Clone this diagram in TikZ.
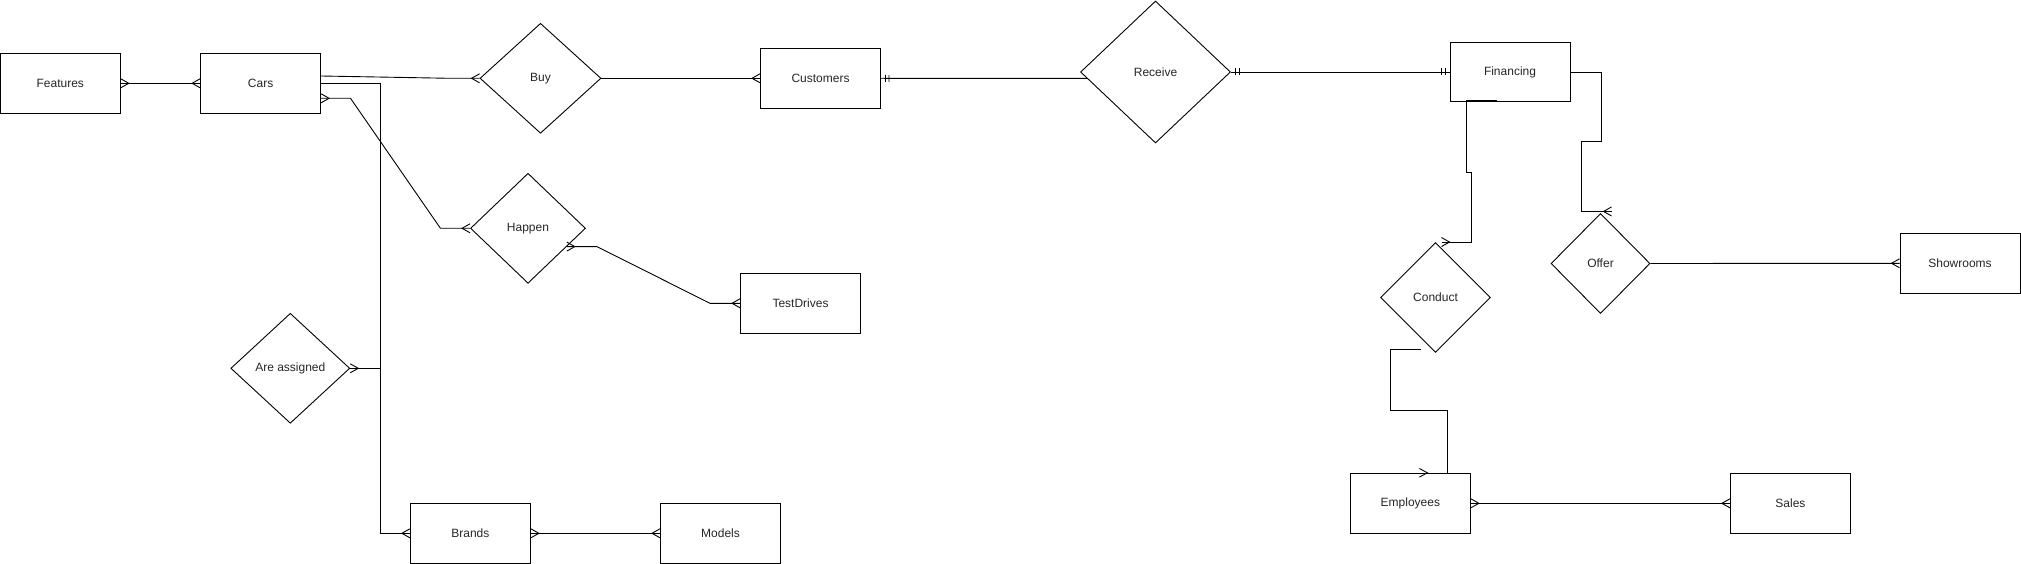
\documentclass[tikz,border=0pt]{standalone}
\usepackage{fontspec}
\setmainfont{Liberation Sans}
\usetikzlibrary{shapes.geometric,arrows.meta,calc}

% crow's foot (many) and double bar (one and only one)
\pgfdeclarearrow{
  name = Crow,
  parameters = {\the\pgfarrowlength,\the\pgfarrowwidth},
  defaults = {length = 8pt, width = 9pt},
  setup code = {
    \pgfarrowssettipend{0pt}
    \pgfarrowssetlineend{0pt}
    \pgfarrowssetbackend{-\pgfarrowlength}
    \pgfarrowssavethe\pgfarrowlength
    \pgfarrowssavethe\pgfarrowwidth
  },
  drawing code = {
    \pgfpathmoveto{\pgfqpoint{0pt}{.5\pgfarrowwidth}}
    \pgfpathlineto{\pgfqpoint{-\pgfarrowlength}{0pt}}
    \pgfpathlineto{\pgfqpoint{0pt}{-.5\pgfarrowwidth}}
    \pgfusepathqstroke
  }
}
\pgfdeclarearrow{
  name = One,
  parameters = {\the\pgfarrowwidth},
  defaults = {width = 7pt},
  setup code = {
    \pgfarrowssettipend{0pt}
    \pgfarrowssetlineend{0pt}
    \pgfarrowssetbackend{-8pt}
    \pgfarrowssavethe\pgfarrowwidth
  },
  drawing code = {
    \pgfpathmoveto{\pgfqpoint{-4.5pt}{.5\pgfarrowwidth}}
    \pgfpathlineto{\pgfqpoint{-4.5pt}{-.5\pgfarrowwidth}}
    \pgfpathmoveto{\pgfqpoint{-8pt}{.5\pgfarrowwidth}}
    \pgfpathlineto{\pgfqpoint{-8pt}{-.5\pgfarrowwidth}}
    \pgfusepathqstroke
  }
}

\tikzset{
  entity/.style={draw, line width=1pt, minimum width=120pt, minimum height=60pt,
    inner sep=0pt, font=\fontsize{12}{14}\selectfont, text=black!85},
  relation/.style={draw, diamond, line width=0.9pt, inner sep=0pt,
    font=\fontsize{12}{14}\selectfont, text=black!85},
  link/.style={line width=0.9pt}
}

\begin{document}
\begin{tikzpicture}[x=1pt,y=-1pt]
        \useasboundingbox (0,0) rectangle (2021,564);
        % entities and relations
        \node[entity] (features) at (60.3,83.3) {Features};
        \node[entity] (cars) at (260.6,83.3) {Cars};
        \node[relation, minimum width=121pt, minimum height=110pt] (buy) at (540.5,78.3) {Buy};
        \node[entity] (customers) at (820.5,78.3) {Customers};
        \node[relation, minimum width=150pt, minimum height=142pt] (receive) at (1155.5,72) {Receive};
        \node[entity, minimum height=59pt] (financing) at (1510,72) {Financing};
        \node[relation, minimum width=115pt, minimum height=110pt] (happen) at (528,228.3) {Happen};
        \node[entity] (testdrives) at (800.5,303.3) {TestDrives};
        \node[relation, minimum width=119pt, minimum height=110pt] (assigned) at (290.3,368.3) {Are assigned};
        \node[entity] (brands) at (470.4,533.3) {Brands};
        \node[entity] (models) at (720.5,533.3) {Models};
        \node[relation, minimum width=110pt, minimum height=110pt] (conduct) at (1435.5,297.5) {Conduct};
        \node[relation, minimum width=99pt, minimum height=100pt] (offer) at (1600.5,263.5) {Offer};
        \node[entity] (showrooms) at (1960,263.3) {Showrooms};
        \node[entity] (employees) at (1410.4,503.3) {Employees};
        \node[entity] (sales) at (1790.4,503.3) {Sales};
        % cars side
        \draw[link, Crow-Crow] (features.east) -- (cars.west);
        \draw[link, -Crow] ($(cars.east)+(0,-7.3)$) -- ($(buy.west)+(-29.6,0)$) -- (buy.west);
        \draw[link, -Crow] (buy.east) -- (customers.west);
        \draw[link, -Crow] (cars.east) -- ++(59.2,0) |- (brands.west);
        \draw[link, Crow-] (assigned.east) -- ++(30,0);
        \draw[link, Crow-Crow] ($(cars.east)+(0,15)$) -- ++(29.4,0) -- ($(happen.west)+(-29.6,0)$) -- (happen.west);
        \draw[link, Crow-Crow] ($(happen.east)!0.33!(happen.south)$) -- ++(30,0) -- ($(testdrives.west)+(-30,0)$) -- (testdrives.west);
        \draw[link, Crow-Crow] (brands.east) -- (models.west);
        % customers and financing
        \draw[link, One-] (customers.east) -- ($(receive.west)!0.09!(receive.south)$);
        \draw[link, One-One] (receive.east) -- (financing.west);
        \draw[link, -Crow] ($(financing.south)+(-13.5,-1.7)$) -- ++(-30.5,0) -- ++(0,71.7) -- ++(5.5,0) |- ($(conduct.north)+(6,0)$);
        \draw[link, -Crow] (financing.east) -- ++(30.5,0) -- ++(0,69.7) -- ++(-19.5,0) |- ($(offer.north)+(11,-1.6)$);
        \draw[link, -Crow] (offer.east) -- (showrooms.west);
        % employees
        \draw[link] ($(conduct.south)+(-14.4,-3.3)$) -- ++(-30.3,0) -- ++(0,61) -| ($(employees.north)+(36.6,0)$);
        \draw[link] ($(employees.north)+(9,-4.3)$) -- ++(8,4.3) -- ++(-8,4.3);
        \draw[link, Crow-Crow] (employees.east) -- (sales.west);
    \end{tikzpicture}
\end{document}
